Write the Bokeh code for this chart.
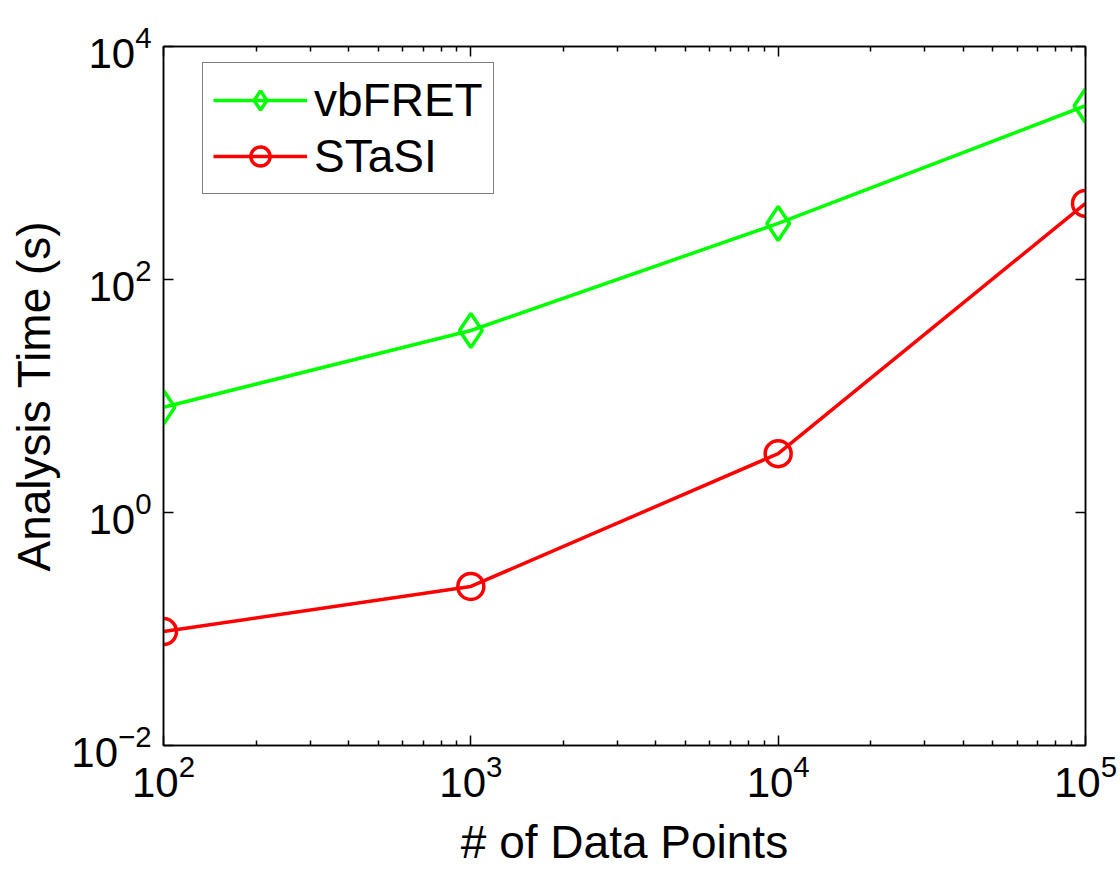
from bokeh.plotting import figure
from bokeh.models import (LogAxis, FixedTicker, Legend, LegendItem, ColumnDataSource)
from bokeh.embed import file_html
from bokeh.resources import INLINE

# Data
n_points = [100, 1000, 10000, 100000]
vbfret_time = [8.0, 36.5, 303.0, 3100.0]
stasi_time = [0.095, 0.232, 3.2, 450.0]

x_major = [100, 1000, 10000, 100000]
x_minor = [m * d for d in [100, 1000, 10000] for m in range(2, 10)]
y_major = [0.01, 1, 100, 10000]

FONT = "Liberation Sans"

p = figure(width=1120, height=870, x_axis_type="log", y_axis_type="log",
           x_range=(100, 100000), y_range=(0.01, 10000),
           output_backend="svg", toolbar_location=None,
           min_border_left=163, min_border_right=35,
           min_border_top=46, min_border_bottom=124)
p.grid.visible = False
p.outline_line_color = "black"
p.outline_line_width = 1.5
p.background_fill_color = "white"
p.border_fill_color = "white"

def style_axis(ax, ticks, minor, labels=True):
    ax.ticker = FixedTicker(ticks=ticks, minor_ticks=minor)
    ax.major_tick_in = 10
    ax.major_tick_out = 0
    ax.minor_tick_in = 5
    ax.minor_tick_out = 0
    ax.axis_line_color = "black"
    ax.axis_line_width = 1.5
    ax.major_tick_line_width = 1.5
    ax.minor_tick_line_width = 1.5
    ax.major_label_text_font = FONT
    ax.major_label_text_font_size = "42px"
    ax.major_label_text_color = "black"
    ax.axis_label_text_font = FONT
    ax.axis_label_text_font_size = "46px"
    ax.axis_label_text_font_style = "normal"
    ax.axis_label_text_color = "black"
    if not labels:
        ax.major_label_text_font_size = "0px"
        ax.major_label_text_alpha = 0

style_axis(p.xaxis[0], x_major, x_minor)
style_axis(p.yaxis[0], y_major, [])
p.xaxis[0].axis_label = "# of Data Points"
p.yaxis[0].axis_label = "Analysis Time (s)"
p.xaxis[0].major_label_standoff = 8
p.yaxis[0].major_label_standoff = 12
p.xaxis[0].axis_label_standoff = 16
p.yaxis[0].axis_label_standoff = 8

top = LogAxis()
right = LogAxis()
style_axis(top, x_major, x_minor, labels=False)
style_axis(right, y_major, [], labels=False)
p.add_layout(top, "above")
p.add_layout(right, "right")

src_v = ColumnDataSource(dict(x=n_points, y=vbfret_time))
src_s = ColumnDataSource(dict(x=n_points, y=stasi_time))

green = "#00FF00"
red = "#FF0000"

lv = p.line("x", "y", source=src_v, line_color=green, line_width=3.5)
mv = p.scatter("x", "y", source=src_v, marker="diamond",
               size=34, fill_color=None, line_color=green, line_width=3.5)
ls = p.line("x", "y", source=src_s, line_color=red, line_width=3.5)
ms = p.scatter("x", "y", source=src_s, marker="circle", size=26,
               fill_color=None, line_color=red, line_width=3.5)

legend = Legend(items=[LegendItem(label="vbFRET", renderers=[lv, mv]),
                       LegendItem(label="STaSI", renderers=[ls, ms])],
                location=(39, 551))
legend.label_text_font = FONT
legend.label_text_font_size = "46px"
legend.label_text_color = "black"
legend.label_text_baseline = "middle"
legend.glyph_width = 94
legend.glyph_height = 48
legend.label_height = 48
legend.label_standoff = 7
legend.spacing = 2
legend.padding = 10
legend.margin = 0
legend.border_line_color = "black"
legend.border_line_width = 1.5
legend.background_fill_alpha = 1
p.add_layout(legend, "center")

open("out.html", "w").write(file_html(p, INLINE))
